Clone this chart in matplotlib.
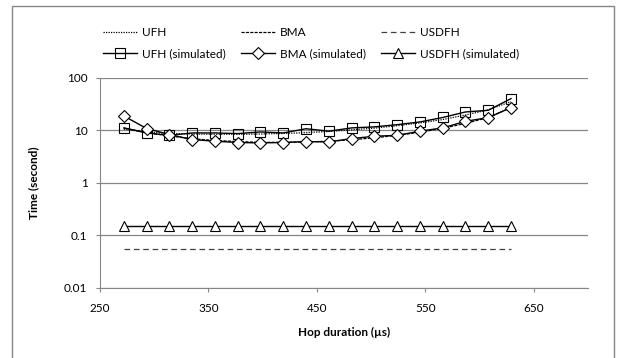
import numpy as np
import matplotlib
matplotlib.use('Agg')
import matplotlib.pyplot as plt
from matplotlib.ticker import FixedLocator, FuncFormatter
from matplotlib.patches import Rectangle

plt.rcParams['font.family'] = ['Lato', 'DejaVu Sans']
plt.rcParams['font.size'] = 8.5

#hop durations (us)
hop = [272, 293, 314, 335, 356, 377, 398, 419, 440, 461,
       482, 503, 524, 545, 566, 587, 608, 629]

#analytical curves
ufh = [10.5, 9.3, 8.7, 8.5, 8.4, 8.4, 8.5, 8.7, 9.0, 9.5,
       10.2, 11.0, 12.2, 13.8, 16.0, 19.5, 24.5, 35.0]
bma = [11.0, 9.0, 7.8, 6.9, 6.4, 6.1, 5.9, 5.9, 6.0, 6.2,
       6.6, 7.2, 8.0, 9.2, 10.9, 13.5, 17.5, 27.0]
usdfh = [0.056] * 18

#simulated curves
ufh_sim = [11.1, 8.9, 8.0, 8.9, 8.9, 8.65, 9.3, 8.9, 10.7, 9.6,
           11.1, 11.6, 12.8, 14.4, 17.5, 22.3, 24.0, 40.0]
bma_sim = [18.7, 10.8, 8.3, 6.65, 6.2, 5.85, 5.75, 5.85, 6.1, 6.0,
           6.95, 7.7, 8.0, 9.6, 11.1, 14.8, 17.4, 27.0]
usdfh_sim = [0.15] * 18

yticks = [0.01, 0.1, 1, 10, 100]
xticks = [250, 350, 450, 550, 650]

W, H = 621, 358
fig = plt.figure(figsize=(W/100, H/100), dpi=100)
ax = fig.add_axes([100/W, 1-288/H, (588-100)/W, (288-77.7)/H])

#chart border
fig.patches.append(Rectangle((12/W, -0.1), (614-12)/W, 1.1-6/H,
                             transform=fig.transFigure, fill=False,
                             edgecolor='#868686', linewidth=1.0))

l1, = ax.plot(hop, ufh, color='black', linestyle=(0, (1, 1)), linewidth=0.9, label='UFH')
l2, = ax.plot(hop, bma, color='black', linestyle=(0, (2.5, 1)), linewidth=0.9, label='BMA')
l3, = ax.plot(hop, usdfh, color='#404040', linestyle=(0, (4.5, 3)), linewidth=0.9, label='USDFH')

l4, = ax.plot(hop, ufh_sim, color='black', linewidth=1.0, marker='s', markersize=7,
              markerfacecolor='none', markeredgecolor='black', markeredgewidth=0.8,
              label='UFH (simulated)')
l5, = ax.plot(hop, bma_sim, color='black', linewidth=1.0, marker='D', markersize=6,
              markerfacecolor='white', markeredgecolor='black', markeredgewidth=0.8,
              label='BMA (simulated)')
l6, = ax.plot(hop, usdfh_sim, color='black', linewidth=1.0, marker='^', markersize=7,
              markerfacecolor='white', markeredgecolor='black', markeredgewidth=0.8,
              label='USDFH (simulated)')

ax.set_yscale('log')
ax.set_ylim(0.01, 100)
ax.set_xlim(250, 700)
ax.yaxis.set_major_locator(FixedLocator(yticks))
ax.yaxis.set_minor_locator(FixedLocator([]))
ax.yaxis.set_major_formatter(FuncFormatter(lambda v, p: '%g' % v))
ax.set_xticks(xticks)

ax.grid(axis='y', color='#868686', linewidth=0.9)
ax.set_axisbelow(True)
for s in ['top', 'right']:
    ax.spines[s].set_visible(False)
ax.spines['left'].set_color('#868686')
ax.spines['bottom'].set_color('#868686')
ax.tick_params(axis='both', direction='out', length=3, color='#868686', labelsize=8.5, pad=6)
ax.tick_params(axis='x', pad=8)

ax.set_xlabel('Hop duration (\u00b5s)', fontweight='bold', fontsize=8.5, labelpad=9)
ax.set_ylabel('Time (second)', fontweight='bold', fontsize=8.5, labelpad=18)

hs = [l1, l4, l2, l5, l3, l6]
fig.legend(hs, [h.get_label() for h in hs],
           loc='upper left', bbox_to_anchor=(97/W, 1-21/H), ncol=3,
           frameon=False, borderpad=0, handlelength=2.9, handletextpad=0.42,
           columnspacing=1.25, labelspacing=0.9, fontsize=8.5)

fig.savefig('out.png', dpi=100)
